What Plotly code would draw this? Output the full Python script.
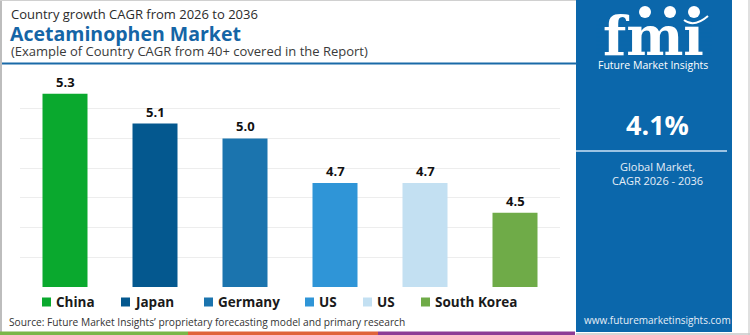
import plotly.graph_objects as go

# ---- data ----
countries = ["China", "Japan", "Germany", "US", "US", "South Korea"]
cagr = [5.3, 5.1, 5.0, 4.7, 4.7, 4.5]
colors = ["#0aa92e", "#04588f", "#1b74ae", "#2f95d7", "#c3e0f2", "#6fab48"]
global_cagr = "4.1%"

W, H = 750, 335
PANEL = "#0b67ab"
FONT = "Open Sans"


def px(x):
    return x / W


def py(y):
    return 1 - y / H


idx = list(range(len(countries)))

fig = go.Figure()
fig.add_trace(go.Bar(
    x=idx, y=cagr, marker=dict(color=colors, line=dict(width=0)),
    width=0.5, showlegend=False, hoverinfo="skip",
))

annotations = []
shapes = []

# value labels
for i, v in zip(idx, cagr):
    annotations.append(dict(x=i, y=v, xref="x", yref="y", text=f"<b>{v:.1f}</b>",
                            showarrow=False, yshift=12,
                            font=dict(family=FONT, size=13, color="#111111")))


def txt(x, y, text, size, color, anchor="left", family=FONT):
    return dict(x=px(x), y=py(y), xref="paper", yref="paper", xanchor=anchor,
                yanchor="middle", text=text, showarrow=False,
                font=dict(family=family, size=size, color=color))


# titles
annotations += [
    txt(9, 14, "Country growth CAGR from 2026 to 2036", 13, "#2b2b2b"),
    txt(8, 33, "<b>Acetaminophen Market</b>", 19.5, "#1565a6"),
    txt(9, 51, "(Example of Country CAGR from 40+ covered in the Report)", 13, "#3a3a3a"),
    txt(7, 322, "Source: Future Market Insights’ proprietary forecasting model and primary research",
        10.2, "#333333"),
]

# legend (manual)
leg_x = [42, 121, 204, 305, 363, 421]
for lx, name, c in zip(leg_x, countries, colors):
    shapes.append(dict(type="rect", xref="paper", yref="paper",
                       x0=px(lx), x1=px(lx + 9), y0=py(306.5), y1=py(297.5),
                       fillcolor=c, line=dict(width=0)))
    annotations.append(txt(lx + 12, 302, f"<b>{name}</b>", 13.5, "#1a1a1a"))

# borders / stripes
shapes += [
    dict(type="line", xref="paper", yref="paper", x0=px(0), x1=px(577), y0=py(63.5), y1=py(63.5),
         line=dict(color="#1a6aa8", width=2)),
    dict(type="line", xref="paper", yref="paper", x0=px(1), x1=px(1), y0=py(0), y1=py(332),
         line=dict(color="#bdbdbd", width=2)),
    dict(type="line", xref="paper", yref="paper", x0=px(0), x1=px(576), y0=py(0.5), y1=py(0.5),
         line=dict(color="#d0d0d0", width=1)),
    dict(type="rect", xref="paper", yref="paper", x0=px(0), x1=px(188), y0=py(335), y1=py(331.5),
         fillcolor="#7ab648", line=dict(width=0)),
    dict(type="rect", xref="paper", yref="paper", x0=px(188), x1=px(378), y0=py(335), y1=py(331.5),
         fillcolor="#e0633a", line=dict(width=0)),
    dict(type="rect", xref="paper", yref="paper", x0=px(378), x1=px(575), y0=py(335), y1=py(331.5),
         fillcolor="#8e3c96", line=dict(width=0)),
    dict(type="line", xref="paper", yref="paper", x0=px(749), x1=px(749), y0=py(0), y1=py(335),
         line=dict(color="#d6d6d6", width=1.5)),
    dict(type="line", xref="paper", yref="paper", x0=px(576), x1=px(750), y0=py(334), y1=py(334),
         line=dict(color="#c8c8c8", width=1.5)),
    # right panel
    dict(type="rect", xref="paper", yref="paper", x0=px(576), x1=px(732), y0=py(332), y1=py(0),
         fillcolor=PANEL, line=dict(width=0), layer="below"),
    dict(type="line", xref="paper", yref="paper", x0=px(576), x1=px(727), y0=py(151), y1=py(151),
         line=dict(color="#9cc3e3", width=2)),
]

# logo
annotations.append(txt(653, 36, "<b>fmı</b>", 54, "white", anchor="center", family="DejaVu Serif"))
for yy in range(21, 56, 4):
    shapes.append(dict(type="line", xref="paper", yref="paper", x0=px(596), x1=px(712),
                       y0=py(yy), y1=py(yy), line=dict(color=PANEL, width=1.3)))
for cx in [645, 670, 694]:
    shapes.append(dict(type="circle", xref="paper", yref="paper", x0=px(cx - 6), x1=px(cx + 6),
                       y0=py(18), y1=py(6), fillcolor="white", line=dict(width=0)))
shapes.append(dict(type="path", xref="paper", yref="paper",
                   path=f"M {px(684)},{py(20)} Q {px(694)},{py(28)} {px(708)},{py(16)}",
                   line=dict(color="white", width=2)))

annotations += [
    txt(653, 65, "Future Market Insights", 10.5, "white", anchor="center"),
    txt(657, 125, f"<b>{global_cagr}</b>", 27, "white", anchor="center"),
    txt(657, 166, "Global Market,", 11, "#e6eef7", anchor="center"),
    txt(657, 180, "CAGR 2026 - 2036", 11, "#e6eef7", anchor="center"),
    txt(657, 320, "www.futuremarketinsights.com", 10, "#e6eef7", anchor="center"),
]

fig.update_layout(
    width=W, height=H, margin=dict(l=0, r=0, t=0, b=0),
    paper_bgcolor="white", plot_bgcolor="white",
    xaxis=dict(domain=[px(20), px(560)], range=[-0.5, 5.5], showticklabels=False,
               showgrid=False, zeroline=False, ticks="", fixedrange=True),
    yaxis=dict(domain=[py(287), py(79)], range=[4.0, 5.4], dtick=0.2, tick0=4.0,
               showticklabels=False, showgrid=True, gridcolor="#ededed", gridwidth=1,
               zeroline=False, ticks="", fixedrange=True),
    bargap=0.5, annotations=annotations, shapes=shapes, showlegend=False,
)

fig.write_html("out.html")
